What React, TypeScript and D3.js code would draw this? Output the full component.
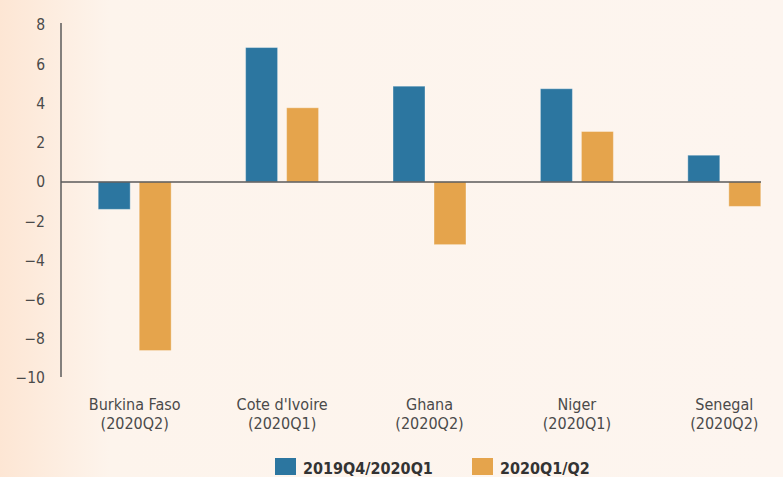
import React from "react";
import * as d3 from "d3";

const categories = ["Burkina Faso", "Cote d'Ivoire", "Ghana", "Niger", "Senegal"];
const periods = ["(2020Q2)", "(2020Q1)", "(2020Q2)", "(2020Q1)", "(2020Q2)"];
const seriesNames = ["2019Q4/2020Q1", "2020Q1/Q2"];
const series1 = [-1.4, 6.85, 4.88, 4.75, 1.36];
const series2 = [-8.6, 3.78, -3.2, 2.57, -1.25];
const yTicks = [8, 6, 4, 2, 0, -2, -4, -6, -8, -10];
const colors = ["#2c76a0", "#e5a44c"];

const W = 783;
const H = 477;

export default function App() {
  const x0 = d3.scaleBand<string>().domain(categories).range([61, 798]).paddingInner(0.505).paddingOuter(0.2525);
  const x1 = d3.scaleBand<string>().domain(seriesNames).range([0, x0.bandwidth()]).paddingInner(0.22).paddingOuter(0);
  const y = d3.scaleLinear().domain([-10, 8]).range([378, 25]);
  const data = [series1, series2];
  const font = "'Liberation Sans Narrow', 'DejaVu Sans Condensed', 'Liberation Sans', sans-serif";
  return (
    <svg width={W} height={H} style={{ position: "absolute", left: 0, top: 0 }}>
      <defs>
        <linearGradient id="bg" x1="0" x2="1" y1="0" y2="0">
          <stop offset="0" stopColor="#fde6d4" />
          <stop offset="0.14" stopColor="#fdf4ec" />
          <stop offset="1" stopColor="#fdf5ef" />
        </linearGradient>
      </defs>
      <rect x={0} y={0} width={W} height={H} fill="url(#bg)" />
      {yTicks.map((t) => (
        <text key={t} x={45} y={y(t)} dy="0.35em" textAnchor="end" fontSize={15.5} fill="#4a4a4a" fontFamily={font}>
          {t < 0 ? "\u2212" + Math.abs(t) : t}
        </text>
      ))}
      {categories.map((c, i) =>
        data.map((s, j) => {
          const v = s[i];
          const xx = (x0(c) as number) + (x1(seriesNames[j]) as number);
          return (
            <rect
              key={c + j}
              x={xx}
              y={y(Math.max(0, v))}
              width={x1.bandwidth()}
              height={Math.abs(y(v) - y(0))}
              fill={colors[j]}
              stroke="#ffffff"
              strokeOpacity={0.35}
              strokeWidth={1}
            />
          );
        })
      )}
      <line x1={61} x2={761} y1={y(0)} y2={y(0)} stroke="#5a5a5a" strokeWidth={1.5} />
      <line x1={61} x2={61} y1={23} y2={377} stroke="#5a5a5a" strokeWidth={1.5} />
      {categories.map((c, i) => {
        const cx = (x0(c) as number) + x0.bandwidth() / 2;
        return (
          <text key={c} x={cx} textAnchor="middle" fontSize={16} fill="#4a4a4a" fontFamily={font}>
            <tspan x={cx} y={410}>{c}</tspan>
            <tspan x={cx} y={429}>{periods[i]}</tspan>
          </text>
        );
      })}
      {seriesNames.map((s, j) => {
        const lx = [275, 472][j];
        return (
          <g key={s}>
            <rect x={lx} y={458} width={21} height={17} fill={colors[j]} />
            <text x={lx + 28} y={474} fontSize={16} fontWeight="bold" fill="#333" fontFamily={font}>
              {s}
            </text>
          </g>
        );
      })}
    </svg>
  );
}
